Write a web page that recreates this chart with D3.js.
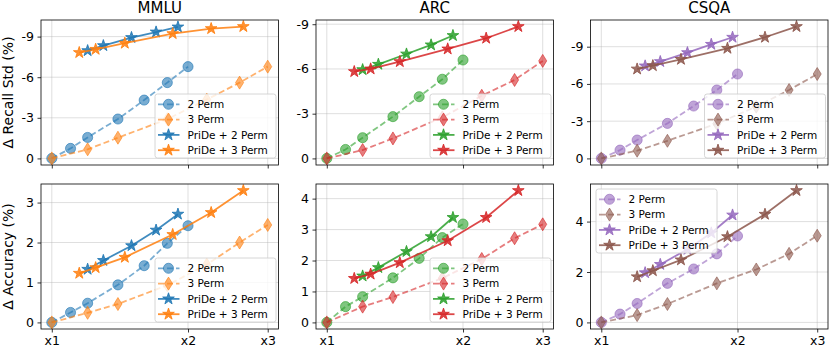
<!DOCTYPE html>
<html>
<head>
<meta charset="utf-8">
<script src="https://cdn.jsdelivr.net/npm/d3@7"></script>
<style>
  body { margin: 0; background: #fff; }
  text { font-family: "DejaVu Sans", sans-serif; }
</style>
</head>
<body>
<svg id="chart" width="830" height="349"></svg>
<script>
// x positions (cost multiplier)
const xPerm2 = [1, 1.1, 1.2, 1.4, 1.6, 1.8, 2.0];
const xPerm3 = [1, 1.2, 1.4, 1.8, 2.2, 2.6, 3.0];
const xPride2 = [1.2, 1.3, 1.5, 1.7, 1.9];
const xPride3 = [1.15, 1.25, 1.45, 1.85, 2.25, 2.65];
const xPride2Csqa = [1.25, 1.35, 1.55, 1.75, 1.95];
const xPride3Csqa = [1.2, 1.3, 1.5, 1.9, 2.3, 2.7];
const xTicks = [1, 2, 3];
const xTickLabels = ['x1', 'x2', 'x3'];

const titles = ['MMLU', 'ARC', 'CSQA'];
const seriesNames = ['2 Perm', '3 Perm', 'PriDe + 2 Perm', 'PriDe + 3 Perm'];

// delta recall std (%)
const mmluStd2 = [0, -0.74, -1.55, -2.91, -4.31, -5.6, -6.78];
const mmluStd3 = [0, -0.67, -1.53, -2.9, -4.35, -5.6, -6.78];
const mmluStdP2 = [-7.96, -8.33, -8.93, -9.34, -9.71];
const mmluStdP3 = [-7.82, -8.06, -8.51, -9.22, -9.59, -9.74];
const arcStd2 = [0, -0.6, -1.39, -2.8, -4.14, -5.31, -6.6];
const arcStd3 = [0, -0.56, -1.34, -2.75, -4.2, -5.26, -6.54];
const arcStdP2 = [-5.95, -6.31, -7.0, -7.61, -8.24];
const arcStdP3 = [-5.82, -6.0, -6.49, -7.34, -8.06, -8.84];
const csqaStd2 = [0, -0.67, -1.48, -2.82, -4.22, -5.51, -6.8];
const csqaStd3 = [0, -0.62, -1.42, -2.8, -4.17, -5.51, -6.8];
const csqaStdP2 = [-7.45, -7.8, -8.52, -9.19, -9.76];
const csqaStdP3 = [-7.2, -7.47, -7.98, -8.87, -9.76, -10.62];

// delta accuracy (%)
const mmluAcc2 = [0, 0.25, 0.48, 0.94, 1.42, 1.98, 2.42];
const mmluAcc3 = [0, 0.24, 0.46, 0.93, 1.45, 2.0, 2.44];
const mmluAccP2 = [1.33, 1.55, 1.92, 2.31, 2.71];
const mmluAccP3 = [1.23, 1.37, 1.63, 2.2, 2.75, 3.3];
const arcAcc2 = [0, 0.51, 0.83, 1.44, 2.07, 2.74, 3.18];
const arcAcc3 = [0, 0.51, 0.82, 1.43, 2.05, 2.72, 3.17];
const arcAccP2 = [1.5, 1.77, 2.29, 2.77, 3.39];
const arcAccP3 = [1.42, 1.56, 1.93, 2.64, 3.39, 4.26];
const csqaAcc2 = [0, 0.33, 0.75, 1.55, 2.12, 2.72, 3.43];
const csqaAcc3 = [0, 0.29, 0.73, 1.55, 2.1, 2.72, 3.44];
const csqaAccP2 = [1.97, 2.3, 2.9, 3.55, 4.26];
const csqaAccP3 = [1.81, 2.05, 2.48, 3.4, 4.29, 5.23];

const stdTicks = [0, -3, -6, -9];
const accTicks = [[0, 1, 2, 3], [0, 1, 2, 3, 4], [0, 2, 4]];

const palette = [['#1f77b4', '#ff7f0e'], ['#2ca02c', '#d62728'], ['#9467bd', '#8c564b']];

const svg = d3.select('#chart');
const panelLeft = [41, 316, 590.5];
const panelW = 237.5;
const rowTop = [20, 184];
const panelH = 145;

const panels = [
    { col: 0, row: 0, ys: [mmluStd2, mmluStd3, mmluStdP2, mmluStdP3], ticks: stdTicks, legend: 'lr' },
    { col: 1, row: 0, ys: [arcStd2, arcStd3, arcStdP2, arcStdP3], ticks: stdTicks, legend: 'lr' },
    { col: 2, row: 0, ys: [csqaStd2, csqaStd3, csqaStdP2, csqaStdP3], ticks: stdTicks, legend: 'lr' },
    { col: 0, row: 1, ys: [mmluAcc2, mmluAcc3, mmluAccP2, mmluAccP3], ticks: accTicks[0], legend: 'lr' },
    { col: 1, row: 1, ys: [arcAcc2, arcAcc3, arcAccP2, arcAccP3], ticks: accTicks[1], legend: 'lr' },
    { col: 2, row: 1, ys: [csqaAcc2, csqaAcc3, csqaAccP2, csqaAccP3], ticks: accTicks[2], legend: 'ul' }
];

function markerPath(kind) {
    if (kind === 'circle') return d3.symbol(d3.symbolCircle, 80)();
    if (kind === 'diamond') return 'M0,-6.5L4,0L0,6.5L-4,0Z';
    return d3.symbol(d3.symbolStar, 42)();
}

function seriesStyle(i, col) {
    const c = palette[col][i % 2];
    const baseline = i < 2;
    return {
        color: c,
        dashed: baseline,
        opacity: baseline ? 0.6 : 0.85,
        kind: baseline ? (i === 0 ? 'circle' : 'diamond') : 'star'
    };
}

panels.forEach(p => {
    const left = panelLeft[p.col];
    const top = rowTop[p.row];
    const g = svg.append('g').attr('transform', `translate(${left},${top})`);

    const lpad = 0.05 * Math.log(3);
    const x = d3.scaleLog().domain([Math.exp(-lpad), 3 * Math.exp(lpad)]).range([0, panelW]);

    const xsets = p.col === 2
        ? [xPerm2, xPerm3, xPride2Csqa, xPride3Csqa]
        : [xPerm2, xPerm3, xPride2, xPride3];

    const all = p.ys.flat();
    const lo = d3.min(all), hi = d3.max(all);
    const pad = 0.05 * (hi - lo);
    const y = d3.scaleLinear().range([panelH, 0]);
    if (p.row === 0) y.domain([hi + pad, lo - pad]);
    else y.domain([lo - pad, hi + pad]);

    // grid
    g.append('g').selectAll('line').data(xTicks).join('line')
    .attr('x1', d => x(d)).attr('x2', d => x(d))
    .attr('y1', 0).attr('y2', panelH)
    .attr('stroke', '#b0b0b0').attr('stroke-opacity', 0.5).attr('stroke-width', 0.8);
    g.append('g').selectAll('line').data(p.ticks).join('line')
    .attr('y1', d => y(d)).attr('y2', d => y(d))
    .attr('x1', 0).attr('x2', panelW)
    .attr('stroke', '#b0b0b0').attr('stroke-opacity', 0.5).attr('stroke-width', 0.8);

    // series
    p.ys.forEach((vals, i) => {
        const st = seriesStyle(i, p.col);
        const pts = vals.map((v, k) => [xsets[i][k], v]);
        const line = d3.line().x(d => x(d[0])).y(d => y(d[1]));
        const sg = g.append('g');
        sg.append('path')
        .attr('d', line(pts))
        .attr('fill', 'none')
        .attr('stroke', st.color)
        .attr('stroke-opacity', st.opacity)
        .attr('stroke-width', 1.8)
        .attr('stroke-dasharray', st.dashed ? '6,3' : null);
        sg.selectAll('path.m').data(pts).join('path')
        .attr('class', 'm')
        .attr('d', markerPath(st.kind))
        .attr('transform', d => `translate(${x(d[0])},${y(d[1])})`)
        .attr('fill', st.color)
        .attr('fill-opacity', st.opacity)
        .attr('stroke', st.color)
        .attr('stroke-opacity', st.opacity)
        .attr('stroke-width', 1);
    });

    // axes
    const yAxis = d3.axisLeft(y).tickValues(p.ticks).tickSize(3.5).tickPadding(3.5)
    .tickFormat(d => String(d));
    const ya = g.append('g').call(yAxis);
    ya.select('.domain').remove();
    ya.selectAll('text').attr('font-size', 12.5).attr('fill', '#000');
    ya.selectAll('line').attr('stroke', '#000').attr('stroke-width', 0.8);

    const xAxis = d3.axisBottom(x).tickValues(xTicks).tickSize(3.5).tickPadding(3.5)
    .tickFormat((d, i) => p.row === 1 ? xTickLabels[i] : '');
    const xa = g.append('g').attr('transform', `translate(0,${panelH})`).call(xAxis);
    xa.select('.domain').remove();
    xa.selectAll('text').attr('font-size', 12.5).attr('fill', '#000');
    xa.selectAll('line').attr('stroke', '#000').attr('stroke-width', 0.8);

    g.append('rect')
    .attr('width', panelW).attr('height', panelH)
    .attr('fill', 'none').attr('stroke', '#000').attr('stroke-width', 0.8);

    if (p.row === 0) {
        g.append('text')
        .attr('x', panelW / 2).attr('y', -7.5)
        .attr('text-anchor', 'middle')
        .attr('font-size', 15)
        .text(titles[p.col]);
    }

    // legend
    const lw = 121, lh = 64;
    let lx, ly;
    if (p.legend === 'lr') { lx = panelW - 2.5 - lw; ly = panelH - 7 - lh; }
    else { lx = 5.5; ly = 5; }
    const lg = g.append('g').attr('transform', `translate(${lx},${ly})`);
    lg.append('rect')
    .attr('width', lw).attr('height', lh).attr('rx', 2.5)
    .attr('fill', '#fff').attr('fill-opacity', 0.8)
    .attr('stroke', '#cccccc').attr('stroke-width', 0.8);
    seriesNames.forEach((name, i) => {
        const st = seriesStyle(i, p.col);
        const cy = 10.3 + i * 15.3;
        const row = lg.append('g');
        row.append('line')
        .attr('x1', 3).attr('x2', 24.5).attr('y1', cy).attr('y2', cy)
        .attr('stroke', st.color).attr('stroke-opacity', st.opacity)
        .attr('stroke-width', 1.8)
        .attr('stroke-dasharray', st.dashed ? '6,3' : null);
        row.append('path')
        .attr('d', markerPath(st.kind))
        .attr('transform', `translate(13.5,${cy})`)
        .attr('fill', st.color).attr('fill-opacity', st.opacity)
        .attr('stroke', st.color).attr('stroke-opacity', st.opacity)
        .attr('stroke-width', 1);
        row.append('text')
        .attr('x', 32.5).attr('y', cy).attr('dy', '0.36em')
        .attr('font-size', 10.5)
        .text(name);
    });
});

// y labels
const yLabels = ['Δ Recall Std (%)', 'Δ Accuracy (%)'];
yLabels.forEach((t, r) => {
    svg.append('text')
    .attr('transform', `translate(12.5,${rowTop[r] + panelH / 2}) rotate(-90)`)
    .attr('text-anchor', 'middle')
    .attr('font-size', 14)
    .text(t);
});
</script>
</body>
</html>
